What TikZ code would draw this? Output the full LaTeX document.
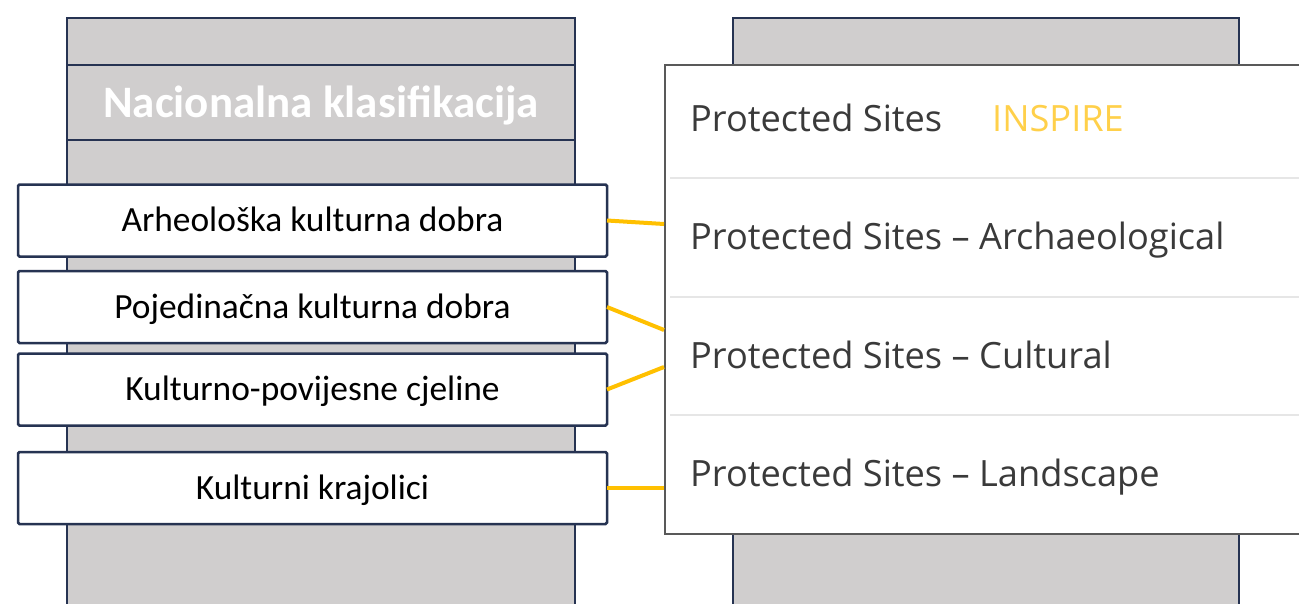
\documentclass[tikz,border=0pt]{standalone}
\usepackage{fontspec}
\setmainfont{Carlito}
\newfontfamily\osans{Open Sans}
\definecolor{navy}{HTML}{263352}
\definecolor{colgray}{HTML}{D0CECE}
\definecolor{panelgray}{HTML}{595959}
\definecolor{sepgray}{HTML}{E6E6E6}
\definecolor{gold}{HTML}{FFC000}
\definecolor{inspiregold}{HTML}{FFD04A}
\definecolor{rowtxt}{HTML}{3A3A3A}
\tikzset{
  colbox/.style={fill=colgray, draw=navy, line width=2.5pt},
  divline/.style={draw=navy, line width=2.5pt},
  kbox/.style={draw=navy, fill=white, line width=2.5pt, rounded corners=1.5pt,
    minimum width=589pt, minimum height=72pt, inner sep=0pt, outer sep=0pt,
    font=\fontsize{35.4}{40}\selectfont, text height=22.6pt, text depth=0pt},
  titletext/.style={text=white, inner sep=0pt, font=\bfseries\fontsize{45}{50}\selectfont,
    text height=29pt, text depth=0pt},
  panel/.style={fill=white, draw=panelgray, line width=2pt},
  sepline/.style={draw=sepgray, line width=2pt},
  rowtext/.style={anchor=base west, inner sep=0pt, text=rowtxt, font=\osans\fontsize{36.2}{42}\selectfont},
  inspiretext/.style={anchor=base west, inner sep=0pt, text=inspiregold, font=\osans\fontsize{36.2}{42}\selectfont},
  link/.style={draw=gold, line width=4pt}
}
\begin{document}
\begin{tikzpicture}[x=1pt,y=-1pt]
\useasboundingbox (0,0) rectangle (1299,603);
\clip (0,0) rectangle (1299,603);
% left column
\draw[colbox] (67,18) rectangle (575,630);
\draw[divline] (67,65) -- (575,65);
\draw[divline] (67,140) -- (575,140);
\node[titletext] (nk) at (321,102.5) {Nacionalna klasifikacija};
% left boxes
\node[kbox] (b1) at (312.5,220.5) {Arheološka kulturna dobra};
\node[kbox] (b2) at (312.5,307) {Pojedinačna kulturna dobra};
\node[kbox] (b3) at (312.5,389.5) {Kulturno-povijesne cjeline};
\node[kbox] (b4) at (312.5,488) {Kulturni krajolici};
% right column and panel
\draw[colbox] (733,18) rectangle (1239,630);
\draw[panel] (665,65) rectangle (1320,534);
\draw[sepline] (670,178) -- (1299,178);
\draw[sepline] (670,297) -- (1299,297);
\draw[sepline] (670,415) -- (1299,415);
\node[rowtext] (r1) at (690,131) {Protected Sites};
\node[inspiretext] (ins) at (992,131) {INSPIRE};
\node[rowtext] (r2) at (690,249) {Protected Sites – Archaeological};
\node[rowtext] (r3) at (690,368) {Protected Sites – Cultural};
\node[rowtext] (r4) at (690,486) {Protected Sites – Landscape};
% connector ends on panel edge
\coordinate (c1) at (664,224);
\coordinate (c2) at (664,330);
\coordinate (c3) at (664,367);
\coordinate (c4) at (664,488);
\draw[link] (b1.east) -- (c1);
\draw[link] (b2.east) -- (c2);
\draw[link] (b3.east) -- (c3);
\draw[link] (b4.east) -- (c4);
\end{tikzpicture}
\end{document}
